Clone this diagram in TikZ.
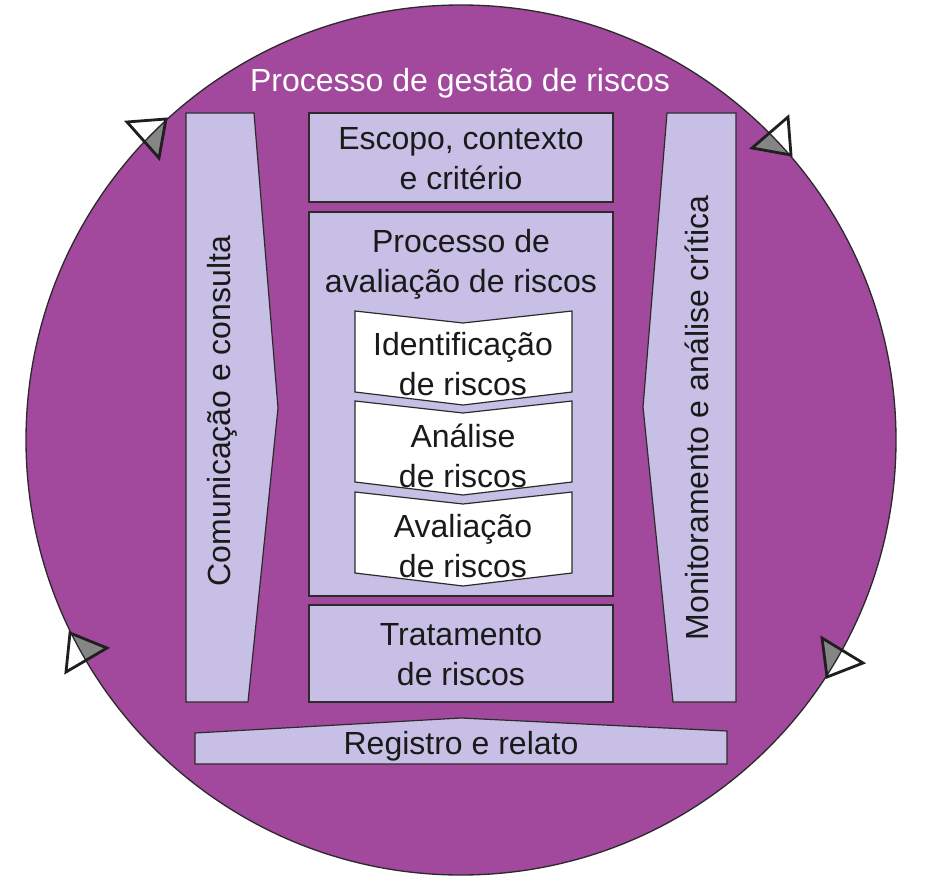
\documentclass[tikz,border=0pt]{standalone}
\usepackage{fontspec}
\setmainfont{Liberation Sans}
\definecolor{circpurple}{HTML}{A2499E}
\definecolor{boxlav}{HTML}{C7BFE5}
\definecolor{edgecol}{HTML}{2B2B2B}
\definecolor{txtcol}{HTML}{1A1A1A}
\definecolor{markgray}{HTML}{858585}
\begin{document}
\begin{tikzpicture}[x=0.75pt,y=-0.75pt,
  panel/.style={draw=edgecol, line width=0.9pt, fill=boxlav},
  chev/.style={draw=edgecol, line width=0.9pt, fill=white},
  lbl/.style={text=txtcol, font=\fontsize{24}{30}\selectfont, align=center, inner sep=0pt},
  marker/.style={draw=black!88, line width=2.1pt, line join=miter},
]
\useasboundingbox (0,0) rectangle (927,891);
\fill[white] (0,0) rectangle (927,891);
\coordinate (c) at (461,440);
\fill[circpurple] (c) circle [radius=435];

% rotation markers on the circle
\coordinate (m1a) at (127,122); \coordinate (m1b) at (166,119); \coordinate (m1c) at (159,158);
\coordinate (m2a) at (752,148); \coordinate (m2b) at (788,117); \coordinate (m2c) at (791,155);
\coordinate (m3a) at (70,633);  \coordinate (m3b) at (107,648); \coordinate (m3c) at (66,672);
\coordinate (m4a) at (822,638); \coordinate (m4b) at (863,663); \coordinate (m4c) at (827,677);
\foreach \i in {1,...,4} \fill[white] (m\i a) -- (m\i b) -- (m\i c) -- cycle;
\begin{scope}
  \clip (c) circle [radius=435];
  \foreach \i in {1,...,4} \fill[markgray] (m\i a) -- (m\i b) -- (m\i c) -- cycle;
\end{scope}
\draw[edgecol, line width=1pt] (c) circle [radius=435];
\foreach \i in {1,...,4} \draw[marker] (m\i a) -- (m\i b) -- (m\i c) -- cycle;

% title
\node[lbl, text=white] (title) at (460,83) {Processo de gestão de riscos};

% side arrows
\draw[panel] (186,113) -- (254,113) -- (278,408) -- (248,702) -- (186,702) -- cycle;
\node[lbl, rotate=90] (comm) at (222,411) {Comunicação e consulta};
\draw[panel] (667,113) -- (736,113) -- (736,702) -- (673,702) -- (643,407) -- cycle;
\node[lbl, rotate=90] (monit) at (697,418) {Monitoramento e análise crítica};

% central column
\draw[panel] (309,113) rectangle (613,202);
\node[lbl] (escopo) at (461,159) {Escopo, contexto\\e critério};
\draw[panel] (309,212) rectangle (613,596);
\node[lbl] (aval) at (461,264) {Processo de\\avaliação de riscos};

\foreach \t in {311,401,492}
  \draw[chev] (355,\t) -- (463,\t+12) -- (572,\t) -- (572,\t+81) -- (463,\t+94) -- (355,\t+81) -- cycle;
\node[lbl] (ident) at (463,364) {Identificação\\de riscos};
\node[lbl] (anal) at (463,456) {Análise\\de riscos};
\node[lbl] (avalr) at (463,546) {Avaliação\\de riscos};

\draw[panel] (309,605) rectangle (613,702);
\node[lbl] (trat) at (461,655) {Tratamento\\de riscos};

% bottom bar
\draw[panel] (195,733) -- (461,718) -- (727,731) -- (727,764) -- (195,764) -- cycle;
\node[lbl] (reg) at (461,746) {Registro e relato};
\end{tikzpicture}
\end{document}
